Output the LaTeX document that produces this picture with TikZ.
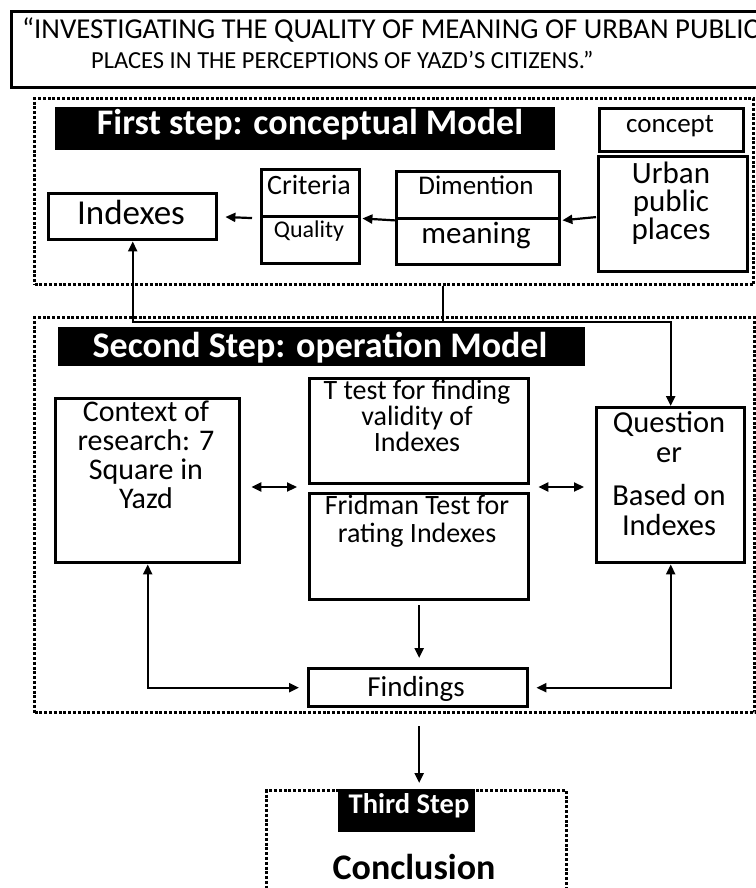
\documentclass[tikz,border=0pt]{standalone}
\usepackage{fontspec}
\setmainfont{Carlito}
\usetikzlibrary{arrows.meta}

\begin{document}
\begin{tikzpicture}[x=1pt, y=-1pt,
    box/.style={rectangle, draw, line width=3.4pt, inner sep=0pt, anchor=north west},
    frame/.style={rectangle, draw, line width=3pt, dash pattern=on 3pt off 1.8pt, inner sep=0pt, anchor=north west},
    banner/.style={rectangle, fill=black, inner sep=0pt, anchor=north west},
    lbl/.style={align=center, inner sep=0pt, anchor=base},
    wlbl/.style={lbl, text=white, font=\bfseries},
    arr/.style={-{Triangle[length=10pt,width=9pt]}, line width=2.2pt},
    dblarr/.style={{Triangle[length=10pt,width=9pt]}-{Triangle[length=10pt,width=9pt]}, line width=2.2pt}]

\useasboundingbox (0,0) rectangle (755,888);

% Title
\node[box, line width=2.8pt, minimum width=770, minimum height=76] (title) at (10,10) {};
\node[lbl, anchor=base west, font=\fontsize{28.8}{30}\selectfont] (title1) at (22,39)
    {“INVESTIGATING THE QUALITY OF MEANING OF URBAN PUBLIC};
\node[lbl, anchor=base west, font=\fontsize{24.5}{30}\selectfont] (title2) at (91,69)
    {PLACES IN THE PERCEPTIONS OF YAZD’S CITIZENS.”};

% First step
\node[frame, minimum width=719, minimum height=186] (step1) at (33,97) {};
\node[banner, minimum width=500, minimum height=43] (banner1) at (55,107) {};
\node[wlbl, font=\fontsize{36}{36}\selectfont\bfseries] (banner1txt) at (310,135) {First step: conceptual Model};

\node[box, minimum width=144, minimum height=43] (concept) at (598,107) {};
\node[lbl, font=\fontsize{27}{27}\selectfont] (concepttxt) at (670,132) {concept};

\node[box, minimum width=149, minimum height=115] (urban) at (597,155) {};
\node[lbl, anchor=north, font=\fontsize{31}{28}\selectfont] (urbantxt) at (671,162) {Urban\\public\\places};

\node[box, minimum width=163, minimum height=47] (dimtop) at (395,170) {};
\node[box, minimum width=163, minimum height=46] (dimbot) at (395,217) {};
\node[lbl, font=\fontsize{27}{27}\selectfont] (dimtxt) at (476,194) {Dimention};
\node[lbl, font=\fontsize{31}{31}\selectfont] (meaningtxt) at (476,243) {meaning};

\node[box, minimum width=98, minimum height=47] (crittop) at (260,168) {};
\node[box, minimum width=98, minimum height=47] (critbot) at (260,215) {};
\node[lbl, font=\fontsize{28}{28}\selectfont] (crittxt) at (309,194) {Criteria};
\node[lbl, font=\fontsize{24}{24}\selectfont] (qualtxt) at (309,237) {Quality};

\node[box, minimum width=168, minimum height=46] (indexes) at (47,192) {};
\node[lbl, font=\fontsize{35}{35}\selectfont] (indexestxt) at (131,224) {Indexes};

\draw[arr, shorten <=1pt, shorten >=1pt] (urban.west |- dimbot.north) -- (dimtop.south east);
\draw[arr, shorten >=1pt] (dimtop.south west) -- (crittop.south east);
\draw[arr, shorten <=8pt, shorten >=7pt] (crittop.south west) -- (indexes.east);

% Links between steps
\coordinate (join) at (443,322);
\draw[line width=2.2pt] (step1.south -| join) -- (join);
\draw[arr] (join) -| (indexes.south);

% Second step
\node[frame, minimum width=720, minimum height=395] (step2) at (33,316) {};
\node[banner, minimum width=527, minimum height=39] (banner2) at (58,327) {};
\node[wlbl, font=\fontsize{36}{36}\selectfont\bfseries] (banner2txt) at (320,357) {Second Step: operation Model};

\node[box, minimum width=184, minimum height=164] (context) at (54,397) {};
\node[lbl, anchor=north, font=\fontsize{30}{29}\selectfont] (contexttxt) at (146,401)
    {Context of\\research: 7\\Square in\\Yazd};

\node[box, minimum width=219, minimum height=105] (ttest) at (308,377) {};
\node[lbl, anchor=north, font=\fontsize{28}{26}\selectfont] (ttesttxt) at (417,380)
    {T test for finding\\validity of\\Indexes};

\node[box, minimum width=219, minimum height=106] (fridman) at (308,492) {};
\node[lbl, anchor=north, font=\fontsize{28}{28}\selectfont] (fridmantxt) at (417,495)
    {Fridman Test for\\rating Indexes};

\node[box, minimum width=148, minimum height=155] (quest) at (595,406) {};
\node[lbl, anchor=north, font=\fontsize{30.5}{30}\selectfont] (questtxt) at (669,411)
    {Question\\er\\[13pt]Based on\\Indexes};

\node[box, minimum width=219, minimum height=38] (findings) at (307,667) {};
\node[lbl, font=\fontsize{29}{29}\selectfont] (findingstxt) at (416,696) {Findings};

\draw[arr] (join) -| (quest.north);
\coordinate (tmid) at (417,487);
\draw[dblarr, shorten <=10pt, shorten >=11pt] (context.east |- tmid) -- (ttest.west |- tmid);
\draw[dblarr, shorten <=8pt, shorten >=11pt] (ttest.east |- tmid) -- (quest.west |- tmid);
\draw[arr, shorten <=4pt, shorten >=9pt] (fridman.south) -- (fridman.south |- findings.north);
\draw[dblarr, shorten >=8pt] (context.south) |- (findings.west);
\draw[dblarr, shorten >=7pt] (quest.south) |- (findings.east);

% Third step
\node[frame, minimum width=300, minimum height=140] (step3) at (265,789) {};
\node[banner, minimum width=137, minimum height=43] (banner3) at (338,789) {};
\node[wlbl, font=\fontsize{28.5}{28}\selectfont\bfseries] (banner3txt) at (409,813) {Third Step};
\node[lbl, font=\fontsize{36}{36}\selectfont\bfseries] (conclusion) at (414,879) {Conclusion};

\draw[arr, shorten <=12pt, shorten >=6pt] (step2.south -| fridman.south) -- (step3.north -| fridman.south);
\end{tikzpicture}
\end{document}
